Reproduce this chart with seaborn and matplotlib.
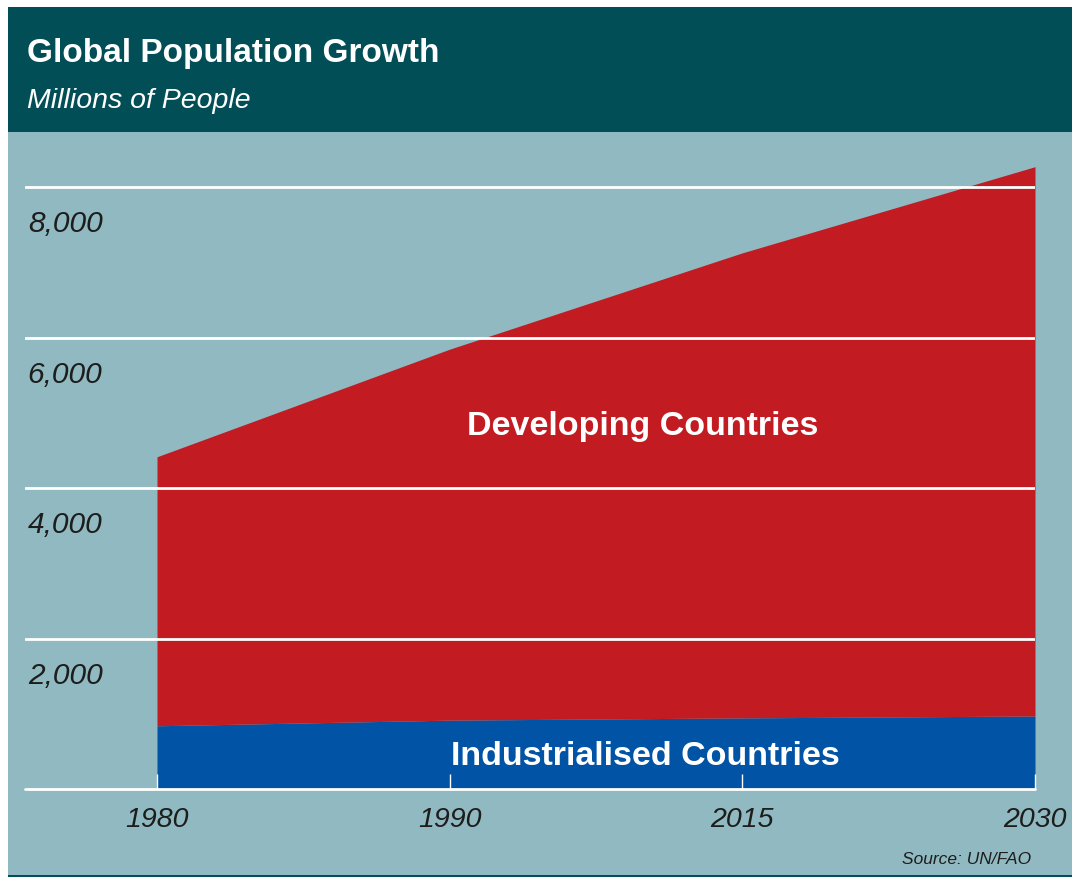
import numpy as np
import pandas as pd
import matplotlib
matplotlib.use("Agg")
import matplotlib.pyplot as plt
from matplotlib.patches import Rectangle
import seaborn as sns

# Data (millions of people)
years = ["1980", "1990", "2015", "2030"]
industrialised = [840, 915, 945, 970]
developing = [3575, 4930, 6180, 7300]
y_ticks = [2000, 4000, 6000, 8000]
y_tick_labels = ["2,000", "4,000", "6,000", "8,000"]

df = pd.DataFrame({"year": years, "Industrialised": industrialised, "Developing": developing})

# Colours
HEADER = "#024e56"
BG = "#90b9c2"
RED = "#c21b22"
BLUE = "#0153a5"
INK = "#1d1d1b"

sns.set_theme(style="white")
FONT = ["Liberation Sans", "DejaVu Sans"]
plt.rcParams["font.family"] = FONT

W, H = 1072, 879
fig = plt.figure(figsize=(W / 100, H / 100), dpi=100, facecolor="white")


def fx(x):
    return x / W


def fy(y):
    return 1 - y / H


def band(x0, y0, x1, y1, color):
    fig.patches.append(Rectangle((fx(x0), fy(y1)), fx(x1) - fx(x0), fy(y0) - fy(y1),
                                 transform=fig.transFigure, color=color, zorder=-5, lw=0))


# header band, plot background and bottom rule
band(8, 8, 1072, 133, HEADER)
band(8, 133, 1072, 876, BG)
band(8, 876, 1072, 878, HEADER)

ax = fig.add_axes([fx(25), fy(790), fx(1035) - fx(25), fy(150) - fy(790)])
ax.set_zorder(2)
ax.set_facecolor("none")
ax.set_axisbelow(False)  # white grid lines and ticks sit on top of the areas

x = np.arange(len(df))
ax.stackplot(x, df["Industrialised"], df["Developing"], colors=[BLUE, RED], lw=0)

ax.set_xlim(-0.451, 3)
ax.set_ylim(0, 8505)
ax.set_yticks(y_ticks)
ax.set_yticklabels([])
ax.grid(axis="y", color="white", lw=2)
ax.grid(axis="x", visible=False)
ax.axhline(0, color="white", lw=2, clip_on=False, zorder=3)
ax.tick_params(axis="y", length=0)
ax.set_xticks(x)
ax.set_xticklabels(df["year"], fontsize=20.5, style="italic", color=INK)
ax.tick_params(axis="x", bottom=True, direction="in", length=11, width=1,
               color="white", pad=12)
sns.despine(ax=ax, left=True, bottom=True)

for v, lab in zip(y_ticks, y_tick_labels):
    ax.annotate(lab, xy=(0, v), xycoords=("axes fraction", "data"), xytext=(2, -32),
                textcoords="offset points", ha="left", va="baseline",
                fontsize=21.5, style="italic", color=INK)

# titles
fig.text(fx(27), fy(62), "Global Population Growth", fontsize=24, fontweight="bold",
         color="white", ha="left", va="baseline")
fig.text(fx(27), fy(108), "Millions of People", fontsize=20.5, style="italic",
         color="white", ha="left", va="baseline")

# area labels
fig.text(fx(643), fy(435), "Developing Countries", fontsize=24.5, fontweight="bold",
         color="white", ha="center", va="baseline")
fig.text(fx(645), fy(765), "Industrialised Countries", fontsize=24.5, fontweight="bold",
         color="white", ha="center", va="baseline")

fig.text(fx(1031), fy(864), "Source: UN/FAO", fontsize=12.5, style="italic",
         color=INK, ha="right", va="baseline")

fig.savefig("out.png", dpi=100, facecolor="white")
